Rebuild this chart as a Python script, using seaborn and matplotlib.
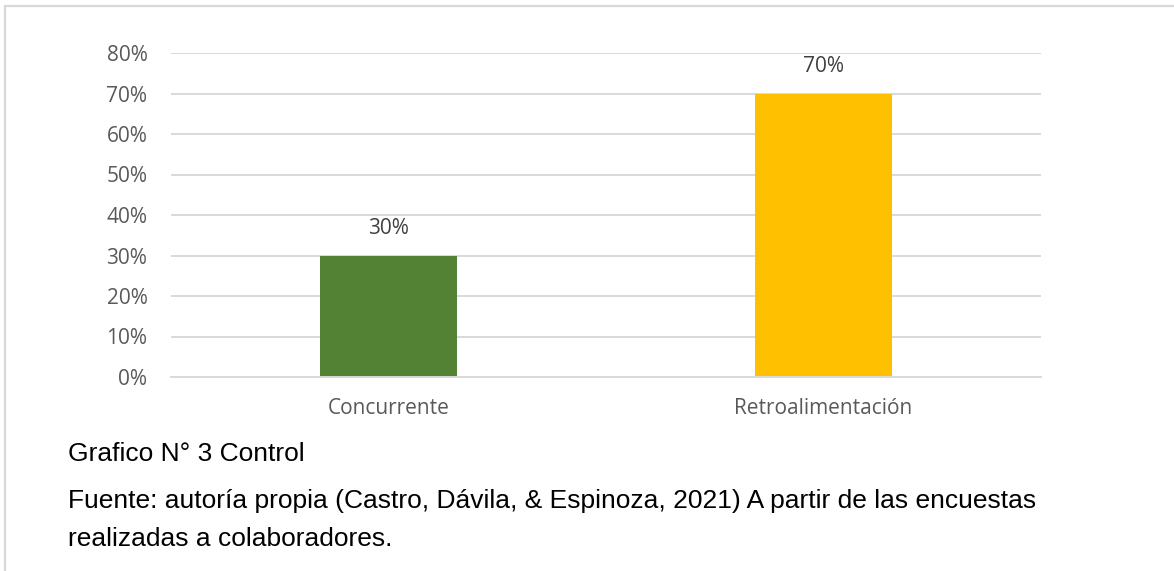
import matplotlib
matplotlib.use("Agg")
import matplotlib.pyplot as plt
from matplotlib.lines import Line2D
import seaborn as sns
import pandas as pd

categories = ["Concurrente", "Retroalimentación"]
values = [0.30, 0.70]
bar_colors = ["#548235", "#FFC000"]
y_ticks = [0.0, 0.1, 0.2, 0.3, 0.4, 0.5, 0.6, 0.7, 0.8]
y_tick_labels = ["0%", "10%", "20%", "30%", "40%", "50%", "60%", "70%", "80%"]
caption = "Grafico N° 3 Control"
source_lines = ["Fuente: autoría propia (Castro, Dávila, & Espinoza, 2021) A partir de las encuestas",
                "realizadas a colaboradores."]

sns.set_theme(style="white")
plt.rcParams["font.family"] = ["Open Sans", "DejaVu Sans"]

W, H = 1174, 571
fig = plt.figure(figsize=(W / 100, H / 100), dpi=100)
fig.patch.set_facecolor("white")

# plot area in pixel terms
left, right, top, bottom = 171, 1041, 53, 377
ax = fig.add_axes([left / W, 1 - bottom / H, (right - left) / W, (bottom - top) / H])

df = pd.DataFrame({"cat": categories, "val": values})
sns.barplot(data=df, x="cat", y="val", hue="cat", palette=bar_colors,
            width=0.317, legend=False, ax=ax, saturation=1, linewidth=0)

ax.set_ylim(0, 0.8)
ax.set_xlim(-0.5, 1.5)
ax.set_yticks(y_ticks)
ax.set_yticklabels(y_tick_labels)
ax.set_xlabel("")
ax.set_ylabel("")
ax.yaxis.grid(True, color="#D9D9D9", linewidth=1.4)
ax.set_axisbelow(True)
for s in ["top", "right", "left"]:
    ax.spines[s].set_visible(False)
ax.spines["bottom"].set_color("#D9D9D9")
ax.spines["bottom"].set_linewidth(1.4)
ax.tick_params(axis="both", length=0, colors="#595959", labelsize=15)
ax.tick_params(axis="y", pad=17)
ax.tick_params(axis="x", pad=15)

for container in ax.containers:
    ax.bar_label(container, labels=[f"{v * 100:.0f}%" for v in container.datavalues],
                 padding=12, color="#404040", fontsize=15)

# caption and source lines
text_family = ["Liberation Sans", "DejaVu Sans"]
fig.text(68 / W, 1 - 461 / H, caption, fontsize=19, color="black",
         family=text_family, va="baseline", ha="left")
for line, baseline in zip(source_lines, [508, 546]):
    fig.text(68 / W, 1 - baseline / H, line, fontsize=19, color="black",
             family=text_family, va="baseline", ha="left")

# outer frame lines (left and top)
fig.add_artist(Line2D([4.5 / W, 4.5 / W], [0, 1 - 6 / H], transform=fig.transFigure,
                      color="#D9D9D9", linewidth=1.6))
fig.add_artist(Line2D([4.5 / W, 1], [1 - 6 / H, 1 - 6 / H], transform=fig.transFigure,
                      color="#D9D9D9", linewidth=1.6))

fig.savefig("out.png", dpi=100, facecolor="white")
